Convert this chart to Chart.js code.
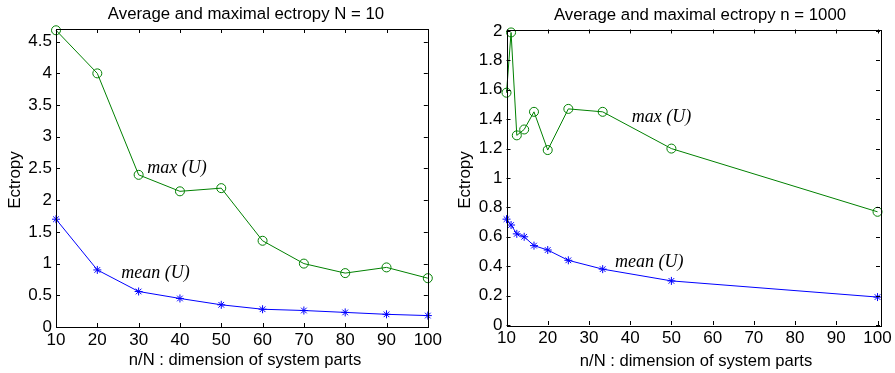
<!DOCTYPE html>
<html><head><meta charset="utf-8">
<script src="https://cdn.jsdelivr.net/npm/chart.js@4.4.0/dist/chart.umd.min.js"></script>
<style>
html,body{margin:0;padding:0;background:#fff;}
#wrap{position:relative;width:895px;height:373px;}
canvas{position:absolute;top:0;}
</style></head><body>
<div id="wrap">
<canvas id="c1" width="445" height="373" style="left:0px;width:445px;height:373px"></canvas>
<canvas id="c2" width="445" height="373" style="left:450px;width:445px;height:373px"></canvas>
</div>
<script>
// ---- Data ----
const leftX = [10, 20, 30, 40, 50, 60, 70, 80, 90, 100];
const leftMax = [4.68, 4.0, 2.4, 2.14, 2.19, 1.36, 1.0, 0.85, 0.94, 0.77];
const leftMean = [1.7, 0.9, 0.56, 0.45, 0.35, 0.28, 0.26, 0.23, 0.2, 0.18];
const leftXTicks = [10, 20, 30, 40, 50, 60, 70, 80, 90, 100];
const leftYTicks = [0, 0.5, 1, 1.5, 2, 2.5, 3, 3.5, 4, 4.5];

const rightX = [10, 11.11, 12.5, 14.29, 16.67, 20, 25, 33.33, 50, 100];
const rightMax = [1.58, 1.99, 1.29, 1.33, 1.45, 1.19, 1.47, 1.45, 1.2, 0.77];
const rightMean = [0.72, 0.68, 0.62, 0.60, 0.54, 0.51, 0.44, 0.38, 0.30, 0.19];
const rightXTicks = [10, 20, 30, 40, 50, 60, 70, 80, 90, 100];
const rightYTicks = [0, 0.2, 0.4, 0.6, 0.8, 1, 1.2, 1.4, 1.6, 1.8, 2];

const titleLeft = 'Average and maximal ectropy N = 10';
const titleRight = 'Average and maximal ectropy n = 1000';
const xLabel = 'n/N : dimension of system parts';
const yLabel = 'Ectropy';
const maxLabel = 'max (U)';
const meanLabel = 'mean (U)';

const GREEN = '#008000', BLUE = '#0000ff';
const FONT = '"Liberation Sans", Arial, sans-serif';

function makeChart(id, xs, maxs, means, xTicks, yTicks, cfg) {
  const pts = (ys) => xs.map((x, i) => ({x: x, y: ys[i]}));
  const decor = {
    id: 'decor',
    afterDraw(chart) {
      const ctx = chart.ctx, a = chart.chartArea;
      const sx = chart.scales.x, sy = chart.scales.y;
      ctx.save();
      ctx.strokeStyle = '#000'; ctx.lineWidth = 1;
      ctx.strokeRect(Math.round(a.left) + 0.5, Math.round(a.top) + 0.5,
        Math.round(a.right - a.left), Math.round(a.bottom - a.top));
      const tl = 4;
      ctx.beginPath();
      xTicks.forEach(v => {
        const px = Math.round(sx.getPixelForValue(v)) + 0.5;
        ctx.moveTo(px, a.bottom); ctx.lineTo(px, a.bottom - tl);
        ctx.moveTo(px, a.top); ctx.lineTo(px, a.top + tl);
      });
      yTicks.forEach(v => {
        const py = Math.round(sy.getPixelForValue(v)) + 0.5;
        ctx.moveTo(a.left, py); ctx.lineTo(a.left + tl, py);
        ctx.moveTo(a.right, py); ctx.lineTo(a.right - tl, py);
      });
      ctx.stroke();
      // titles
      ctx.fillStyle = '#000';
      ctx.textAlign = 'center'; ctx.textBaseline = 'middle';
      ctx.font = '16.8px ' + FONT;
      ctx.fillText(cfg.title, cfg.titleX, cfg.titleY);
      ctx.font = '16.6px ' + FONT;
      ctx.fillText(xLabel, cfg.xlX, cfg.xlY);
      ctx.save();
      ctx.translate(cfg.ylX, cfg.ylY); ctx.rotate(-Math.PI / 2);
      ctx.font = '17px ' + FONT;
      ctx.fillText(yLabel, 0, 0);
      ctx.restore();
      // annotations
      ctx.font = 'italic 18px "Liberation Serif", "Times New Roman", serif';
      ctx.textAlign = 'left';
      cfg.notes.forEach(n => {
        ctx.fillText(n.text, sx.getPixelForValue(n.x), sy.getPixelForValue(n.y));
      });
      ctx.restore();
    }
  };
  return new Chart(document.getElementById(id), {
    type: 'line',
    data: {
      datasets: [
        {data: pts(maxs), borderColor: GREEN, backgroundColor: 'rgba(0,0,0,0)', borderWidth: 1,
         pointStyle: 'circle', pointRadius: 4.5, pointBorderColor: GREEN, pointBorderWidth: 1,
         pointBackgroundColor: 'rgba(0,0,0,0)', tension: 0, clip: false},
        {data: pts(means), borderColor: BLUE, backgroundColor: 'rgba(0,0,0,0)', borderWidth: 1,
         pointStyle: 'star', pointRadius: 4, pointBorderColor: BLUE, pointBorderWidth: 1,
         pointBackgroundColor: BLUE, tension: 0, clip: false}
      ]
    },
    options: {
      responsive: false, animation: false, devicePixelRatio: 1,
      layout: {padding: cfg.padding},
      plugins: {legend: {display: false}, tooltip: {enabled: false}, title: {display: false}},
      scales: {
        x: {type: 'linear', min: cfg.xmin, max: cfg.xmax,
            grid: {display: false, drawTicks: false}, border: {display: false},
            afterBuildTicks: s => { s.ticks = xTicks.map(v => ({value: v})); },
            afterFit: s => { s.height = cfg.xh; },
            ticks: {color: '#000', font: {size: 17, family: FONT}, padding: 3, maxRotation: 0,
                    autoSkip: false, callback: v => String(v)}},
        y: {type: 'linear', min: 0, max: cfg.ymax,
            grid: {display: false, drawTicks: false}, border: {display: false},
            afterBuildTicks: s => { s.ticks = yTicks.map(v => ({value: v})); },
            afterFit: s => { s.width = cfg.yw; },
            ticks: {color: '#000', font: {size: 17, family: FONT}, padding: 4,
                    autoSkip: false, callback: v => String(v)}}
      }
    },
    plugins: [decor]
  });
}

makeChart('c1', leftX, leftMax, leftMean, leftXTicks, leftYTicks, {
  padding: {top: 29, left: 0, right: 14, bottom: 0}, yw: 56, xh: 46,
  xmin: 10, xmax: 100, ymax: 4.7,
  title: titleLeft, titleX: 246, titleY: 14,
  xlX: 245, xlY: 360, ylX: 15, ylY: 180,
  notes: [{text: maxLabel, x: 32.1, y: 2.51}, {text: meanLabel, x: 25.8, y: 0.85}]
});
makeChart('c2', rightX, rightMax, rightMean, rightXTicks, rightYTicks, {
  padding: {top: 29.5, left: 0, right: 15, bottom: 0}, yw: 56.5, xh: 48,
  xmin: 10, xmax: 100.6, ymax: 2.01,
  title: titleRight, titleX: 250, titleY: 15,
  xlX: 246, xlY: 361, ylX: 15, ylY: 180,
  notes: [{text: maxLabel, x: 40.4, y: 1.41}, {text: meanLabel, x: 36.3, y: 0.43}]
});
</script>
</body></html>
